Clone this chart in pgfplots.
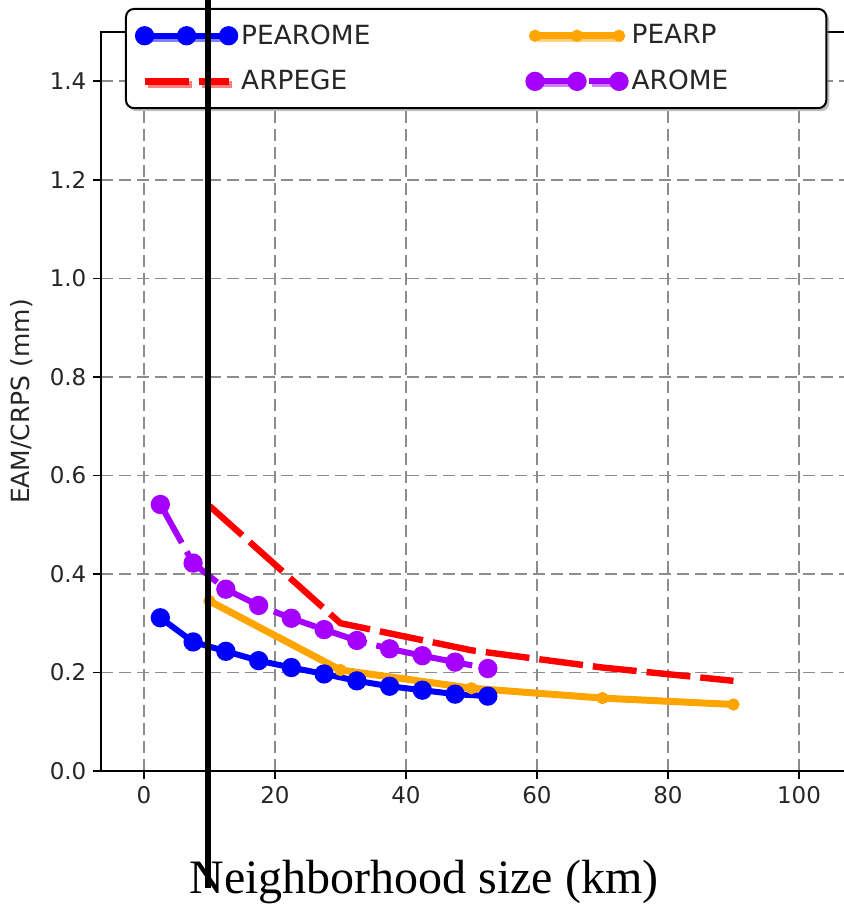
\documentclass[border=0pt]{standalone}
\usepackage{fontspec}
\setmainfont{DejaVu Sans}
\newfontfamily\serifx{Liberation Serif}
\usepackage{pgfplots}
\pgfplotsset{compat=1.18}
\usetikzlibrary{shadows}
\definecolor{myorange}{RGB}{255,165,0}
\definecolor{mypurple}{RGB}{165,0,255}
\begin{document}
\begin{tikzpicture}
\begin{axis}[
  scale only axis,
  width=373.35pt, height=369.5pt,
  xmin=-6.5, xmax=107.5, ymin=0, ymax=1.5,
  xtick={0,20,40,60,80,100},
  ytick={0,0.2,0.4,0.6,0.8,1.0,1.2,1.4},
  /pgf/number format/assume math mode=true,
  yticklabel style={/pgf/number format/.cd, fixed, fixed zerofill, precision=1},
  ticklabel style={font=\fontsize{11.5}{13}\selectfont, text=black!85},
  tick align=outside, tick pos=left,
  major tick length=4pt,
  tick style={black, line width=0.8pt},
  axis line style={black, line width=1pt},
  grid=major,
  major grid style={black!45, line width=0.8pt, dash pattern=on 6pt off 3pt},
  xlabel={\serifx\fontsize{24}{28}\selectfont Neighborhood size (km)},
  xlabel style={at={(axis description cs:0.432,0)}, anchor=base, yshift=-61pt},
  ylabel={EAM/CRPS (mm)},
  ylabel style={at={(axis description cs:-0.1063,0.5)}, anchor=center, font=\fontsize{12.5}{14}\selectfont, text=black!85},
  legend columns=2, transpose legend,
  legend image code/.code={\draw[mark repeat=1,mark phase=1,#1] plot coordinates {(0pt,0pt) (21pt,0pt) (42pt,0pt)};},
  legend style={at={(axis description cs:0.0316,1.0325)}, anchor=north west,
    draw=black, line width=1pt, rounded corners=4pt, fill=white,
    drop shadow={shadow xshift=1.5pt, shadow yshift=-1.5pt, fill=black!50},
    font=\fontsize{13.2}{16}\selectfont, text=black!85,
    row sep=7.5pt, inner xsep=6pt, inner ysep=5.75pt,
    /tikz/every even column/.append style={column sep=77pt},
    /tikz/every odd column/.append style={column sep=1pt},
    cells={anchor=west}},
]
\addplot[blue, line width=3pt, mark=*, mark size=3.3pt, mark options={solid, fill=blue}]
  coordinates {(2.5,0.311) (7.5,0.262) (12.5,0.243) (17.5,0.224) (22.5,0.210) (27.5,0.197) (32.5,0.183) (37.5,0.172) (42.5,0.164) (47.5,0.156) (52.5,0.152)};
\addlegendentry{PEAROME}
\addplot[red, line width=3.2pt, dash pattern=on 22pt off 5pt]
  coordinates {(10,0.538) (30,0.300) (50,0.245) (70,0.210) (90,0.183)};
\addlegendentry{ARPEGE}
\addplot[myorange, line width=3.5pt, mark=*, mark size=1.2pt, mark options={solid, fill=myorange}]
  coordinates {(10,0.345) (30,0.205) (50,0.168) (70,0.148) (90,0.135)};
\addlegendentry{PEARP}
\addplot[mypurple, line width=3pt, dash pattern=on 22pt off 5pt, mark=*, mark size=3.3pt, mark options={solid, fill=mypurple}]
  coordinates {(2.5,0.541) (7.5,0.422) (12.5,0.369) (17.5,0.336) (22.5,0.310) (27.5,0.287) (32.5,0.265) (37.5,0.248) (42.5,0.234) (47.5,0.221) (52.5,0.208)};
\addlegendentry{AROME\hspace*{41pt}}
\end{axis}
\draw[black, line width=3pt] (53.3pt,386pt) -- (53.3pt,-58.5pt);
\pgfresetboundingbox
\useasboundingbox (-50.7pt,-66.5pt) rectangle (370.8pt,385.5pt);
\end{tikzpicture}
\end{document}
